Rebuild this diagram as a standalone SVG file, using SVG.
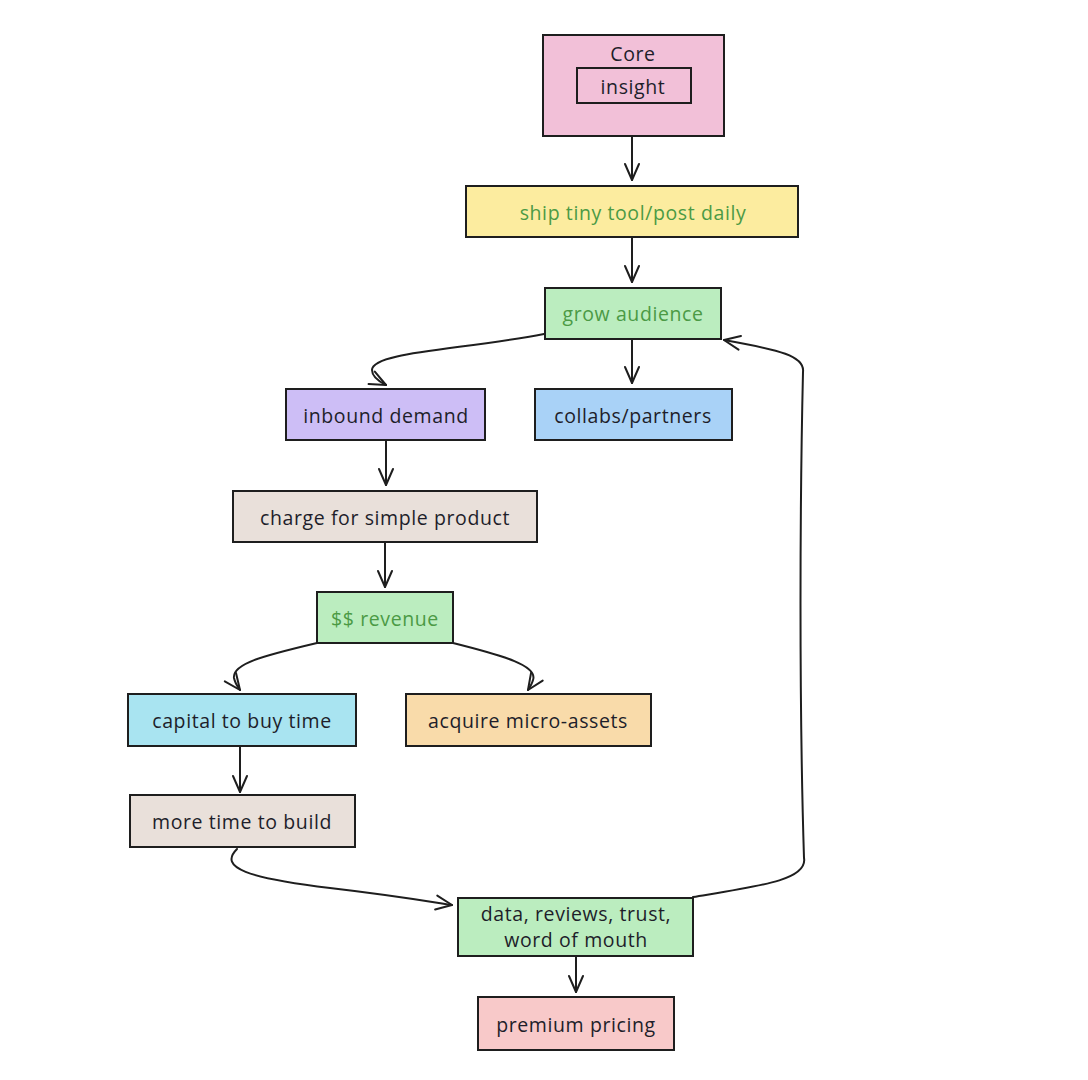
<svg xmlns="http://www.w3.org/2000/svg" width="1088" height="1080" viewBox="0 0 1088 1080">
<defs>
<marker id="arr" viewBox="0 0 20 20" refX="18" refY="10" markerWidth="20" markerHeight="20" markerUnits="userSpaceOnUse" orient="auto">
<path d="M2,3 L18,10 L2,17" fill="none" stroke="#1e1e1e" stroke-width="2" stroke-linecap="round" stroke-linejoin="round"/>
</marker>
<style>
.box{stroke:#1e1e1e;stroke-width:2}
.t{font-family:"Open Sans","Liberation Sans",sans-serif;font-size:19.5px;letter-spacing:0.6px;text-anchor:middle;dominant-baseline:central;fill:#1e1e2a}
.g{fill:#4b9a45}
.c{fill:none;stroke:#1e1e1e;stroke-width:2;stroke-linecap:round;marker-end:url(#arr)}
</style>
</defs>
<rect width="1088" height="1080" fill="#ffffff"/>
<g id="connectors">
<path class="c" d="M632,103 L632,180"/>
<path class="c" d="M632,237 L632,282"/>
<path class="c" d="M632,339 L632,383"/>
<path class="c" d="M544,334 C460,350 372,352 372,370 C372,376 378,381 386,385"/>
<path class="c" d="M386,440 L386,485"/>
<path class="c" d="M385,542 L385,587"/>
<path class="c" d="M317,643 C262,656 232,664 234,678 C235,683 237,686 240,690"/>
<path class="c" d="M453,643 C505,656 538,666 533,680 C532,684 530,687 528,690"/>
<path class="c" d="M240,746 L240,792"/>
<path class="c" d="M237,849 C218,868 248,878 330,888 C390,895 420,900 452,905"/>
<path class="c" d="M576,950 L576,992"/>
<path class="c" d="M693,897 C760,886 808,880 804,858 C799,700 800,500 803,372 C805,356 780,350 724,340"/>
</g>
<g id="core">
<rect class="box" x="543" y="35" width="181" height="101" fill="#f2c0d8"/>
<text class="t" x="633" y="53">Core</text>
</g>
<g id="insight">
<rect class="box" x="577" y="68" width="114" height="35" fill="none"/>
<text class="t" x="633" y="86">insight</text>
</g>
<g id="ship">
<rect class="box" x="466" y="186" width="332" height="51" fill="#fcec9f"/>
<text class="t g" x="633" y="212">ship tiny tool/post daily</text>
</g>
<g id="grow">
<rect class="box" x="545" y="288" width="176" height="51" fill="#bbedbf"/>
<text class="t g" x="633" y="313">grow audience</text>
</g>
<g id="inbound">
<rect class="box" x="286" y="389" width="199" height="51" fill="#cdbef6"/>
<text class="t" x="386" y="415">inbound demand</text>
</g>
<g id="collabs">
<rect class="box" x="535" y="389" width="197" height="51" fill="#a9d2f7"/>
<text class="t" x="633" y="415">collabs/partners</text>
</g>
<g id="charge">
<rect class="box" x="233" y="491" width="304" height="51" fill="#e9e0da"/>
<text class="t" x="385" y="517">charge for simple product</text>
</g>
<g id="revenue">
<rect class="box" x="317" y="592" width="136" height="51" fill="#bbedbf"/>
<text class="t g" x="385" y="618">$$ revenue</text>
</g>
<g id="capital">
<rect class="box" x="128" y="694" width="228" height="52" fill="#a9e4f1"/>
<text class="t" x="242" y="720">capital to buy time</text>
</g>
<g id="acquire">
<rect class="box" x="406" y="694" width="245" height="52" fill="#f9dbaa"/>
<text class="t" x="528" y="720">acquire micro-assets</text>
</g>
<g id="moretime">
<rect class="box" x="130" y="795" width="225" height="52" fill="#e9e0da"/>
<text class="t" x="242" y="821">more time to build</text>
</g>
<g id="data">
<rect class="box" x="458" y="898" width="235" height="58" fill="#bbedbf"/>
<text class="t" x="576" y="913">data, reviews, trust,</text>
<text class="t" x="576" y="939">word of mouth</text>
</g>
<g id="premium">
<rect class="box" x="478" y="997" width="196" height="53" fill="#f8c9c9"/>
<text class="t" x="576" y="1024">premium pricing</text>
</g>
</svg>
